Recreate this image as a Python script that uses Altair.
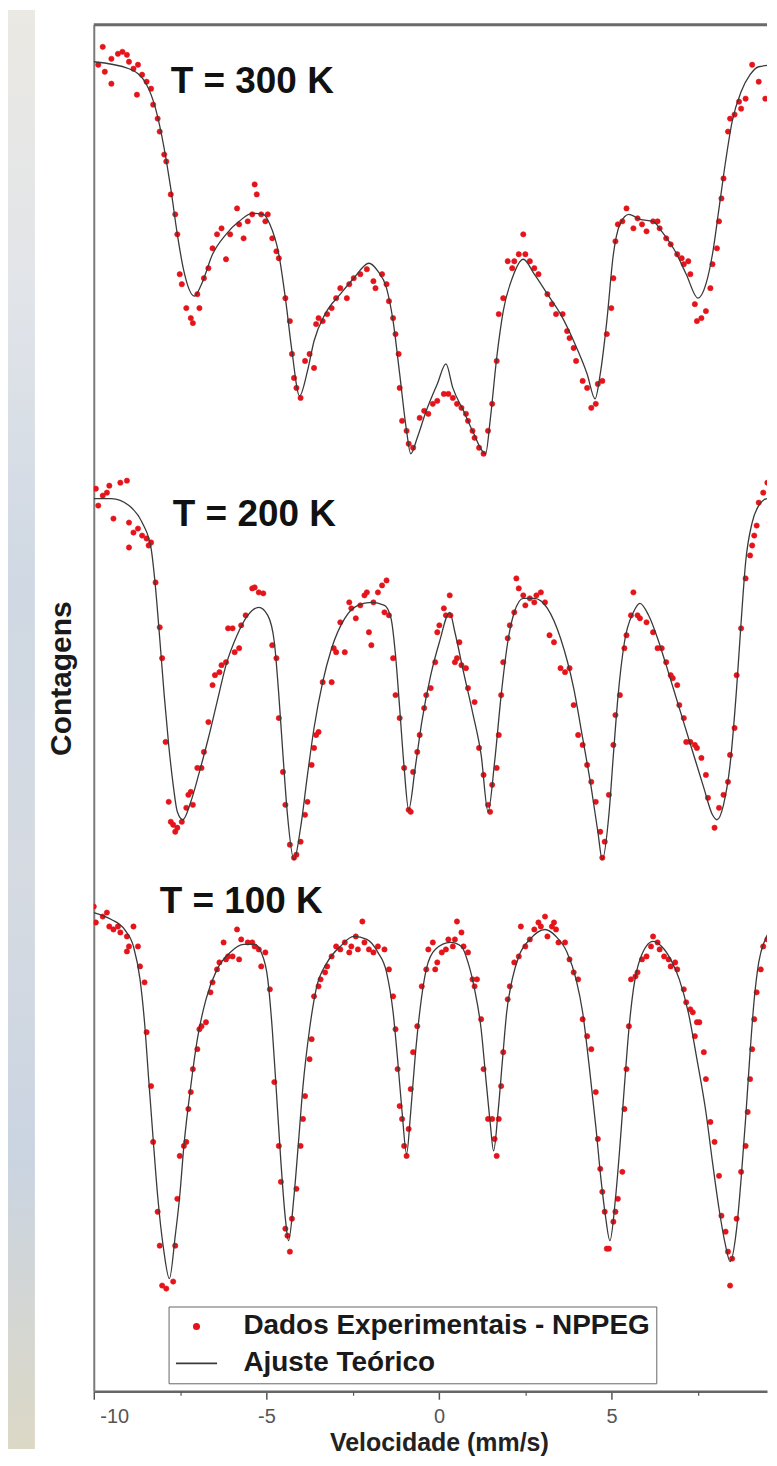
import altair as alt
import pandas as pd

FONT = "Liberation Sans"
SERIE_D = "Dados Experimentais - NPPEG"
SERIE_A = "Ajuste Teórico"
RED = "#e5141b"
LINE = "#3a3a3a"

# ---------------- T = 300 K ----------------
v_dados_300 = [-9.74, -9.87, -9.68, -9.49, -9.30, -9.17, -9.04, -8.98, -9.49, -8.85,
               -8.72, -8.60, -8.47, -8.75, -8.34, -8.28, -8.15, -8.09, -7.96, -7.90,
               -7.77, -7.64, -7.58, -7.51, -7.45, -7.32, -7.19, -7.13, -7.00, -6.94,
               -6.81, -6.68, -6.56, -6.43, -6.30, -6.17, -6.05, -5.85, -5.79, -5.66,
               -5.54, -5.41, -5.34, -5.28, -5.15, -5.03, -4.96, -4.83, -4.71, -4.64,
               -4.45, -4.32, -4.26, -4.20, -4.13, -4.01, -3.88, -3.75, -3.62, -3.56,
               -3.49, -3.37, -3.24, -3.11, -2.98, -2.86, -2.67, -2.60, -2.47, -2.28,
               -2.09, -1.90, -1.84, -1.65, -1.52, -1.45, -1.33, -1.26, -1.17, -1.14,
               -1.07, -0.94, -0.88, -0.75, -0.56, -0.43, -0.31, -0.18, -0.05, 0.14,
               0.27, 0.40, 0.52, 0.65, 0.78, 0.84, 0.97, 1.03, 1.16, 1.29,
               1.42, 1.54, 1.67, 1.73, 1.86, 1.99, 2.12, 2.18, 2.31, 2.44,
               2.50, 2.63, 2.76, 2.88, 3.14, 3.27, 3.39, 3.58, 3.71, 3.78,
               3.90, 3.97, 4.16, 4.29, 4.41, 4.54, 4.60, 4.73, 4.86, 4.99,
               5.05, 5.11, 5.18, 5.31, 5.43, 5.63, 5.75, 5.88, 6.01, 6.20,
               6.33, 6.39, 6.58, 6.71, 6.90, 7.03, 7.09, 7.22, 7.28, 7.41,
               7.47, 7.60, 7.73, 7.86, 7.92, 8.05, 8.11, 8.18, 8.24, 8.37,
               8.43, 8.56, 8.69, 8.75, 8.88, 9.07, 9.26, 9.45, 9.58, 9.64,
               9.71]
c_dados_300 = [134.8, 133.0, 132.3, 133.6, 134.1, 134.3, 134.0, 133.3, 131.1, 132.6,
               133.0, 132.0, 131.3, 130.0, 130.6, 129.0, 127.6, 126.3, 124.0, 123.3,
               120.0, 118.0, 116.0, 112.0, 111.0, 108.6, 107.6, 107.1, 110.0, 108.6,
               111.6, 112.6, 114.6, 116.0, 116.6, 113.5, 116.0, 118.6, 117.0, 115.6,
               117.3, 118.0, 121.0, 120.0, 118.0, 117.3, 118.0, 115.6, 114.3, 113.6,
               109.6, 107.3, 104.0, 101.6, 100.6, 99.6, 103.3, 104.0, 102.6, 107.0,
               107.6, 107.3, 108.0, 108.6, 109.6, 110.6, 109.6, 111.0, 111.6, 112.0,
               112.5, 111.3, 110.6, 112.0, 111.0, 109.3, 107.6, 106.0, 104.0, 100.6,
               97.3, 96.3, 95.0, 94.6, 97.6, 98.3, 98.0, 99.0, 99.3, 100.0,
               100.0, 99.6, 99.0, 98.6, 98.0, 97.3, 96.3, 95.6, 94.6, 94.0,
               96.3, 99.0, 103.3, 108.0, 109.6, 113.3, 112.6, 113.3, 114.0, 116.0,
               114.0, 113.3, 112.6, 112.0, 110.0, 109.0, 108.0, 108.0, 106.3, 105.6,
               104.6, 103.3, 101.3, 100.6, 98.6, 99.0, 101.0, 101.3, 106.0, 108.6,
               111.6, 115.3, 117.0, 117.3, 118.6, 116.6, 117.6, 117.0, 116.3, 117.3,
               117.3, 116.6, 115.6, 115.0, 114.0, 113.6, 113.0, 113.3, 112.0, 109.0,
               107.3, 107.6, 108.3, 110.6, 113.0, 114.6, 117.3, 119.6, 121.6, 126.3,
               127.6, 128.0, 129.3, 128.6, 129.6, 133.0, 131.3, 129.6, 130.6, 129.3,
               132.0]
v_ajuste_300 = [-10.00, -8.98, -8.47, -8.21, -7.96, -7.77, -7.58, -7.39, -7.09, -6.88,
                -6.56, -6.17, -5.79, -5.41, -5.09, -4.90, -4.64, -4.45, -4.26, -4.04,
                -3.81, -3.62, -3.30, -2.86, -2.47, -2.03, -1.77, -1.52, -1.33, -1.14,
                -0.94, -0.82, -0.63, -0.37, -0.05, 0.20, 0.40, 0.71, 0.97, 1.35,
                1.48, 1.67, 1.86, 2.12, 2.44, 2.76, 3.14, 3.52, 3.90, 4.29,
                4.52, 4.67, 4.86, 5.05, 5.24, 5.50, 5.82, 6.20, 6.45, 6.84,
                7.16, 7.50, 7.73, 7.92, 8.11, 8.30, 8.49, 8.75, 9.01, 9.26, 9.74]
c_ajuste_300 = [133.3, 132.6, 131.0, 128.6, 124.6, 120.6, 116.0, 112.3, 109.8, 111.0,
                114.0, 116.0, 117.3, 118.1, 118.0, 117.0, 114.0, 109.6, 104.3, 99.8,
                102.3, 105.3, 108.0, 110.0, 111.6, 113.1, 112.3, 110.6, 107.3, 102.0,
                96.3, 94.0, 95.6, 98.3, 101.0, 103.0, 100.6, 98.3, 96.3, 94.0,
                97.3, 103.6, 108.3, 111.6, 113.5, 112.0, 110.0, 108.0, 105.3, 102.0,
                99.5, 102.0, 107.3, 114.0, 117.0, 118.0, 117.5, 117.3, 116.3, 114.3,
                112.0, 109.6, 111.0, 114.0, 118.6, 123.3, 127.3, 130.3, 132.0, 132.8, 133.0]

# ---------------- T = 200 K ----------------
v_dados_200 = [-9.94, -9.87, -9.74, -9.62, -9.55, -9.43, -9.23, -9.04, -8.98, -8.85,
               -8.98, -8.72, -8.60, -8.47, -8.41, -8.34, -8.21, -8.09, -8.02, -7.92,
               -7.83, -7.77, -7.70, -7.64, -7.58, -7.45, -7.32, -7.26, -7.19, -7.13,
               -7.00, -6.88, -6.81, -6.68, -6.56, -6.49, -6.36, -6.30, -6.17, -6.11,
               -5.98, -5.92, -5.79, -5.73, -5.60, -5.41, -5.34, -5.22, -5.09, -4.83,
               -4.71, -4.64, -4.52, -4.45, -4.32, -4.20, -4.13, -4.01, -3.88, -3.81,
               -3.69, -3.62, -3.56, -3.49, -3.37, -3.11, -3.05, -2.98, -2.86, -2.73,
               -2.60, -2.54, -2.41, -2.28, -2.16, -2.09, -2.03, -1.96, -1.90, -1.77,
               -1.65, -1.52, -1.58, -1.45, -1.33, -1.26, -1.14, -1.01, -0.88, -0.82,
               -0.75, -0.63, -0.56, -0.43, -0.37, -0.24, -0.11, -0.05, 0.01, 0.14,
               0.20, 0.31, 0.33, 0.46, 0.52, 0.59, 0.65, 0.78, 0.84, 1.03,
               1.16, 1.29, 1.42, 1.48, 1.54, 1.67, 1.73, 1.80, 1.86, 1.99,
               2.05, 2.18, 2.24, 2.31, 2.44, 2.50, 2.63, 2.76, 2.82, 2.95,
               3.07, 3.20, 3.33, 3.52, 3.65, 3.78, 3.90, 4.03, 4.16, 4.29,
               4.41, 4.54, 4.67, 4.73, 4.80, 4.92, 5.05, 5.11, 5.24, 5.37,
               5.43, 5.56, 5.63, 5.75, 5.82, 6.01, 6.20, 6.33, 6.45, 6.58,
               6.71, 6.77, 6.90, 6.96, 7.09, 7.16, 7.28, 7.41, 7.47, 7.60,
               7.73, 7.79, 7.98, 8.11, 8.24, 8.37, 8.43, 8.56, 8.62, 8.75,
               8.88, 9.01, 9.07, 9.13, 9.20, 9.26, 9.39, 9.51, 9.58, 9.64]
c_dados_200 = [90.5, 88.8, 89.8, 90.1, 90.8, 87.5, 91.1, 91.3, 87.1, 86.1,
               84.6, 86.5, 85.8, 85.5, 84.8, 85.1, 81.1, 76.6, 73.5, 65.1,
               59.1, 57.1, 56.8, 56.1, 56.5, 57.1, 58.5, 59.8, 60.1, 58.8,
               62.5, 62.5, 64.1, 67.1, 70.8, 71.8, 72.1, 72.8, 73.1, 76.5,
               76.5, 74.1, 74.5, 76.8, 77.8, 80.5, 80.6, 80.1, 80.0, 74.8,
               73.5, 67.5, 62.1, 58.8, 54.8, 53.5, 53.8, 55.1, 57.8, 59.1,
               62.8, 64.5, 65.8, 66.1, 71.1, 71.1, 74.5, 74.1, 77.1, 74.1,
               79.1, 78.5, 77.5, 78.8, 79.8, 80.1, 76.1, 74.8, 79.1, 80.1,
               80.8, 81.3, 78.1, 77.8, 73.5, 69.8, 67.5, 62.5, 58.3, 58.1,
               62.1, 64.1, 65.8, 68.5, 69.8, 70.5, 73.1, 76.1, 76.8, 78.5,
               77.8, 79.8, 77.8, 73.1, 73.5, 75.1, 72.8, 72.5, 70.5, 69.1,
               64.5, 61.8, 58.8, 58.1, 60.8, 62.5, 65.8, 69.8, 73.1, 75.5,
               76.8, 78.1, 81.5, 80.5, 79.8, 78.8, 79.5, 79.1, 79.8, 80.1,
               79.1, 75.8, 75.1, 72.5, 72.1, 72.5, 68.8, 65.8, 64.8, 62.8,
               61.1, 59.1, 56.1, 53.5, 55.1, 59.8, 64.8, 67.8, 69.8, 74.5,
               75.8, 77.8, 80.1, 77.8, 77.5, 77.1, 76.1, 74.5, 74.5, 73.1,
               71.8, 71.5, 70.8, 68.8, 67.5, 65.1, 65.1, 64.8, 64.5, 63.5,
               61.8, 59.5, 56.5, 58.5, 59.8, 61.1, 63.8, 66.5, 71.8, 76.5,
               81.5, 83.8, 84.8, 85.8, 86.8, 89.1, 90.1, 91.1, 87.1, 87.8]
v_ajuste_200 = [-10.00, -9.49, -8.98, -8.60, -8.34, -8.21, -8.09, -7.96, -7.83, -7.70,
                -7.58, -7.42, -7.19, -6.94, -6.68, -6.43, -6.17, -5.85, -5.54, -5.22,
                -4.96, -4.77, -4.64, -4.52, -4.39, -4.20, -4.01, -3.81, -3.62, -3.37,
                -3.11, -2.73, -2.35, -1.96, -1.58, -1.39, -1.26, -1.14, -1.01, -0.88,
                -0.69, -0.50, -0.24, 0.01, 0.31, 0.46, 0.71, 0.97, 1.22, 1.42,
                1.61, 1.80, 1.99, 2.18, 2.44, 2.76, 3.14, 3.52, 3.90, 4.16,
                4.41, 4.60, 4.73, 4.92, 5.05, 5.18, 5.37, 5.63, 5.82, 6.07,
                6.33, 6.58, 6.96, 7.35, 7.67, 7.92, 8.05, 8.24, 8.43, 8.62,
                8.75, 8.88, 9.07, 9.26, 9.51, 9.74]
c_ajuste_200 = [89.5, 89.5, 88.8, 87.1, 84.5, 80.5, 75.5, 69.8, 64.8, 60.8,
                58.1, 57.3, 59.1, 62.1, 65.5, 69.1, 72.8, 75.8, 77.8, 78.6,
                77.8, 75.1, 69.8, 63.8, 57.8, 53.3, 56.5, 61.8, 66.5, 71.1,
                74.5, 77.5, 78.8, 79.1, 78.8, 77.5, 73.8, 68.5, 62.5, 58.3,
                62.5, 67.1, 71.8, 75.1, 78.1, 76.1, 72.1, 68.1, 63.8, 58.1,
                63.1, 69.8, 75.1, 78.1, 79.5, 79.5, 78.5, 75.5, 70.5, 65.5,
                60.5, 56.1, 53.3, 57.8, 63.8, 69.5, 75.1, 78.1, 79.0, 77.8,
                75.5, 72.8, 68.5, 64.1, 60.5, 57.8, 57.3, 58.8, 62.8, 70.5,
                77.1, 83.1, 87.1, 88.8, 89.5, 89.5]

# ---------------- T = 100 K ----------------
v_dados_100 = [-10.00, -9.94, -9.74, -9.62, -9.55, -9.43, -9.30, -9.23, -9.04, -8.98,
               -8.85, -9.04, -8.72, -8.66, -8.53, -8.47, -8.34, -8.28, -8.15, -8.09,
               -8.02, -7.90, -7.70, -7.64, -7.58, -7.51, -7.39, -7.32, -7.26, -7.19,
               -7.13, -7.00, -6.94, -6.88, -6.75, -6.62, -6.56, -6.43, -6.36, -6.24,
               -6.17, -6.11, -5.98, -5.85, -5.79, -5.73, -5.54, -5.41, -5.34, -5.22,
               -5.15, -5.03, -4.90, -4.77, -4.64, -4.58, -4.45, -4.39, -4.32, -4.26,
               -4.13, -4.01, -3.94, -3.88, -3.75, -3.69, -3.62, -3.49, -3.43, -3.30,
               -3.24, -3.11, -2.98, -2.86, -2.73, -2.60, -2.54, -2.41, -2.35, -2.22,
               -2.16, -2.03, -1.90, -1.77, -1.58, -1.45, -1.33, -1.26, -1.20, -1.14,
               -1.07, -1.01, -0.94, -0.88, -0.82, -0.75, -0.63, -0.50, -0.37, -0.31,
               -0.18, -0.05, -0.11, 0.08, 0.20, 0.27, 0.40, 0.46, 0.52, 0.65,
               0.71, 0.84, 0.97, 1.03, 1.10, 1.22, 1.29, 1.42, 1.54, 1.61,
               1.67, 1.73, 1.80, 1.86, 1.99, 2.05, 2.18, 2.31, 2.37, 2.50,
               2.63, 2.76, 2.88, 2.95, 3.07, 3.14, 3.27, 3.33, 3.39, 3.46,
               3.65, 3.78, 3.90, 4.03, 4.16, 4.29, 4.41, 4.54, 4.60, 4.67,
               4.73, 4.80, 4.86, 4.92, 5.05, 5.11, 5.18, 5.31, 5.37, 5.43,
               5.50, 5.56, 5.69, 5.75, 5.88, 6.01, 6.14, 6.20, 6.33, 6.39,
               6.52, 6.65, 6.71, 6.84, 6.90, 7.09, 7.16, 7.28, 7.35, 7.47,
               7.54, 7.41, 7.67, 7.73, 7.86, 7.98, 8.11, 8.18, 8.30, 8.37,
               8.49, 8.43, 8.62, 8.75, 8.88, 8.94, 9.01, 9.07, 9.13, 9.20,
               9.32, 9.39, 9.51, 9.64]
c_dados_100 = [48.6, 47.0, 47.6, 48.0, 46.6, 46.3, 46.6, 46.0, 45.6, 44.6,
               46.6, 44.1, 44.6, 42.6, 41.0, 36.0, 30.6, 25.0, 18.0, 14.6,
               10.6, 10.3, 11.0, 14.6, 19.3, 23.6, 24.6, 25.0, 28.3, 30.0,
               32.3, 34.3, 36.3, 36.6, 37.0, 40.0, 41.0, 42.3, 43.0, 45.0,
               43.3, 43.6, 43.6, 46.3, 43.3, 45.3, 45.0, 45.0, 44.6, 44.3,
               42.6, 44.0, 40.3, 31.0, 24.6, 21.0, 16.3, 15.6, 14.0, 17.3,
               20.3, 24.6, 27.3, 29.6, 33.3, 35.3, 39.6, 40.6, 41.3, 42.0,
               42.6, 43.6, 44.6, 44.3, 45.0, 44.0, 44.6, 45.6, 44.3, 47.1,
               45.0, 44.3, 44.0, 44.6, 44.3, 42.3, 39.6, 36.3, 32.3, 28.6,
               27.3, 24.6, 23.6, 26.3, 30.3, 34.0, 36.6, 40.6, 42.3, 44.3,
               45.0, 43.0, 42.3, 44.0, 44.3, 45.3, 44.6, 45.3, 47.1, 46.0,
               44.6, 44.0, 41.3, 40.6, 41.3, 37.3, 32.3, 27.3, 27.3, 25.3,
               23.6, 27.3, 30.6, 34.0, 39.3, 40.6, 43.0, 43.6, 46.6, 44.6,
               45.3, 46.3, 47.0, 46.6, 47.6, 45.6, 46.6, 47.0, 46.3, 45.0,
               45.0, 43.3, 42.0, 41.3, 37.3, 35.6, 34.3, 30.0, 25.3, 22.3,
               20.0, 18.0, 14.3, 14.3, 17.0, 18.0, 19.3, 22.0, 28.3, 32.3,
               36.6, 41.3, 41.6, 42.0, 43.3, 43.6, 44.6, 45.6, 45.0, 44.3,
               43.6, 43.3, 42.6, 43.0, 42.3, 40.3, 39.0, 38.3, 38.0, 37.0,
               37.0, 35.6, 34.0, 31.3, 27.0, 25.0, 21.6, 17.6, 16.0, 14.0,
               13.3, 10.6, 17.3, 22.0, 24.6, 28.0, 31.3, 34.3, 37.3, 40.0,
               42.3, 44.6, 45.3, 46.3]
v_ajuste_100 = [-10.00, -9.49, -9.11, -8.85, -8.66, -8.53, -8.41, -8.28, -8.15, -7.98,
                -7.81, -7.64, -7.51, -7.39, -7.19, -7.00, -6.75, -6.43, -6.05, -5.66,
                -5.34, -5.15, -4.96, -4.83, -4.71, -4.58, -4.45, -4.36, -4.20, -4.07,
                -3.94, -3.75, -3.56, -3.24, -2.86, -2.47, -2.09, -1.77, -1.52, -1.33,
                -1.20, -1.07, -0.94, -0.82, -0.69, -0.56, -0.37, -0.11, 0.33, 0.65,
                0.84, 1.03, 1.22, 1.35, 1.48, 1.58, 1.71, 1.84, 1.96, 2.12,
                2.31, 2.63, 3.07, 3.39, 3.71, 3.97, 4.16, 4.35, 4.54, 4.69,
                4.82, 4.95, 5.11, 5.24, 5.37, 5.50, 5.63, 5.82, 6.20, 6.45,
                6.71, 6.96, 7.22, 7.47, 7.73, 7.92, 8.11, 8.30, 8.43, 8.62,
                8.75, 8.88, 9.01, 9.13, 9.26, 9.45, 9.74]
c_ajuste_100 = [48.0, 47.3, 46.3, 44.6, 41.3, 37.0, 31.3, 25.3, 19.6, 14.3,
                11.3, 15.6, 19.6, 24.6, 30.6, 35.3, 39.3, 42.3, 44.0, 44.8,
                44.8, 44.0, 41.3, 36.3, 30.0, 23.0, 17.3, 15.1, 19.6, 25.0,
                30.6, 36.3, 40.3, 43.0, 44.6, 45.6, 45.3, 44.0, 42.0, 38.0,
                33.3, 28.0, 23.8, 28.0, 33.6, 38.0, 42.3, 44.3, 45.0, 44.6,
                43.0, 40.3, 36.3, 31.6, 27.0, 24.1, 28.0, 33.3, 38.0, 41.3,
                43.6, 45.3, 46.3, 45.6, 44.0, 41.3, 38.0, 32.6, 26.6, 21.3,
                17.6, 15.1, 19.3, 24.6, 30.6, 36.3, 40.3, 43.3, 45.1, 44.6,
                43.3, 41.3, 38.0, 33.3, 28.0, 23.0, 18.3, 14.6, 13.0, 16.3,
                21.3, 27.3, 34.0, 39.3, 43.0, 45.3, 46.6]

# temperature annotations
rotulos = ["T = 300 K", "T = 200 K", "T = 100 K"]
rotulo_v = [-7.77, -7.71, -8.09]
rotulo_c = [131.3, 87.9, 49.1]

X_MIN, X_MAX = -10.0, 9.5
Y_MIN, Y_MAX = 0.0, 137.0


def tabela(series, nome):
    rows = []
    for T, vs, cs in series:
        if len(vs) != len(cs):
            raise ValueError(f"{nome} {T}: {len(vs)} != {len(cs)}")
        for v, c in zip(vs, cs):
            rows.append({"T": T, "v": v, "c": c, "serie": nome})
    return pd.DataFrame(rows)


df_d = tabela([(300, v_dados_300, c_dados_300),
               (200, v_dados_200, c_dados_200),
               (100, v_dados_100, c_dados_100)], SERIE_D)
df_a = tabela([(300, v_ajuste_300, c_ajuste_300),
               (200, v_ajuste_200, c_ajuste_200),
               (100, v_ajuste_100, c_ajuste_100)], SERIE_A)
df_t = pd.DataFrame({"label": rotulos, "v": rotulo_v, "c": rotulo_c})

xs = alt.Scale(domain=[X_MIN, X_MAX], nice=False, zero=False)
ys = alt.Scale(domain=[Y_MIN, Y_MAX], nice=False, zero=False)
dom = [SERIE_D, SERIE_A]

leg = alt.Legend(
    title=None, orient="none", legendX=75, legendY=1285, direction="vertical",
    padding=6, strokeColor="#666", fillColor="white",
    labelFont=FONT, labelFontSize=28, labelFontWeight="bold", labelColor="#1a1a1a",
    labelLimit=600, labelOffset=25, rowPadding=1, symbolStrokeWidth=1.8,
)

x_main = alt.Axis(
    orient="bottom", values=[-10, -5, 0, 5, 10], grid=False,
    tickSize=8, tickWidth=1.5, tickColor="#555",
    domainColor="#666", domainWidth=2.5,
    labelFont=FONT, labelFontSize=20, labelColor="#555", labelPadding=7,
    labelFlush=True, labelFlushOffset=-6,
    labelExpr="datum.value < 0 ? '-' + abs(datum.value) : '' + datum.value",
    title="Velocidade (mm/s)", titleFont=FONT, titleFontSize=25, titleFontWeight="bold",
    titleColor="#222", titleX=346, titleY=59, titleAlign="center", titleBaseline="alphabetic",
)
x_minor = alt.Axis(
    orient="bottom", values=[-7.5, -2.5, 2.5, 7.5], grid=False, labels=False,
    domain=False, tickSize=4, tickWidth=1.2, tickColor="#555", title=None,
)
y_axis = alt.Axis(
    orient="left", grid=False, labels=False, ticks=False,
    domain=True, domainColor="#7a7a7a", domainWidth=2,
    title="Contagens", titleFont=FONT, titleFontSize=30, titleFontWeight="bold",
    titleColor="#1a1a1a", titleAngle=270, titleX=-23, titleY=655,
    titleAlign="center", titleBaseline="alphabetic",
)

strip = alt.Chart(alt.Data(values=[{"s": 1}])).mark_rect(
    color=alt.Gradient(
        gradient="linear", x1=0, x2=0, y1=0, y2=1,
        stops=[
            alt.GradientStop(color="#ebe9e3", offset=0),
            alt.GradientStop(color="#e1e4e9", offset=0.2),
            alt.GradientStop(color="#cfd8e3", offset=0.4),
            alt.GradientStop(color="#d6dbe2", offset=0.6),
            alt.GradientStop(color="#cad4e1", offset=0.8),
            alt.GradientStop(color="#dcd8c6", offset=1),
        ],
    )
).encode(x=alt.value(-86), x2=alt.value(-59), y=alt.value(-15), y2=alt.value(1428))

# top border of the frame
moldura = alt.Chart(alt.Data(values=[{"s": 1}])).mark_rule(
    color="#6a6a6a", strokeWidth=3
).encode(
    x=alt.XDatum(X_MIN, scale=xs, axis=None),
    x2=alt.X2Datum(X_MAX),
    y=alt.YDatum(Y_MAX, scale=ys, axis=y_axis),
)

pontos = alt.Chart(df_d).mark_point(
    filled=True, opacity=1, strokeWidth=0.6, clip=True
).encode(
    x=alt.X("v:Q", scale=xs, axis=x_main),
    y=alt.Y("c:Q", scale=ys, axis=y_axis),
    color=alt.Color("serie:N", scale=alt.Scale(domain=dom, range=[RED, LINE]), legend=leg),
    stroke=alt.Stroke("serie:N", scale=alt.Scale(domain=dom, range=[RED, LINE]), legend=leg),
    shape=alt.Shape("serie:N", scale=alt.Scale(domain=dom, range=["circle", "stroke"]), legend=leg),
    size=alt.Size("serie:N", scale=alt.Scale(domain=dom, range=[28, 1700]), legend=leg),
)

ajuste = alt.Chart(df_a).mark_line(
    strokeWidth=1.3, interpolate="monotone", clip=True
).encode(
    x=alt.X("v:Q", scale=xs, axis=x_minor),
    y=alt.Y("c:Q", scale=ys, axis=y_axis),
    color=alt.Color("serie:N", scale=alt.Scale(domain=dom, range=[RED, LINE]), legend=leg),
    detail="T:N",
)

textos = alt.Chart(df_t).mark_text(
    align="left", baseline="middle", font=FONT, fontSize=37, fontWeight="bold", color="#111"
).encode(
    x=alt.X("v:Q", scale=xs, axis=None),
    y=alt.Y("c:Q", scale=ys, axis=y_axis),
    text="label:N",
)

chart = (
    alt.layer(strip, moldura, pontos, ajuste, textos)
    .resolve_axis(x="independent")
    .properties(width=675, height=1370, padding=0, background="white")
    .configure_view(stroke="transparent")
)

chart.save("out.html", embed_options={"renderer": "svg", "actions": False})
